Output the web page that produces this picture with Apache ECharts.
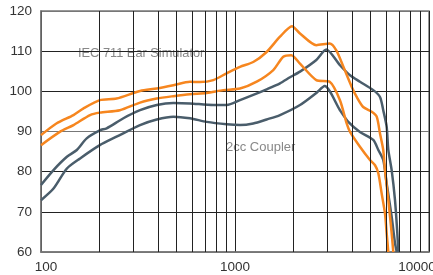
<!DOCTYPE html>
<html>
<head>
<meta charset="utf-8">
<script src="https://cdn.jsdelivr.net/npm/echarts@6/dist/echarts.min.js"></script>
<style>
  html, body { margin: 0; padding: 0; background: #fff; }
  #main { width: 433px; height: 275px; }
</style>
</head>
<body>
<div id="main"></div>
<script>
"use strict";
// IEC 711 ear simulator, upper curve
let iecUpperFreq = [100, 120, 147, 165, 201, 245, 324, 395, 481, 586, 660, 773, 906, 1061, 1242, 1456, 1706, 1967, 2163, 2625, 3077, 3328, 3620, 3998, 4240, 4580, 5066, 5375, 5590, 5810, 5930, 6170, 6420, 6545];
let iecUpperDb   = [89.1, 92.0, 94.1, 95.7, 97.8, 98.2, 100.1, 100.7, 101.5, 102.4, 102.3, 102.8, 104.5, 106.1, 107.3, 109.8, 113.6, 116.2, 114.4, 111.5, 111.9, 110.2, 106.1, 101.1, 98.6, 96.1, 94.9, 93.7, 89.5, 85.4, 80.4, 72.9, 64.7, 60];
// IEC 711 ear simulator, lower curve
let iecLowerFreq = [100, 125, 147, 179, 201, 255, 324, 395, 481, 586, 715, 870, 1061, 1294, 1575, 1774, 1950, 2163, 2625, 3077, 3476, 3764, 3917, 4406, 4964, 5270, 5480, 5700, 5930, 6050, 6170];
let iecLowerDb   = [86.6, 89.9, 91.6, 94.1, 94.7, 95.3, 97.2, 98.2, 98.8, 99.3, 99.6, 100.3, 100.7, 102.4, 105.3, 108.6, 109.0, 106.9, 102.8, 102.4, 97.8, 92.0, 89.9, 86.2, 82.9, 81.6, 79.6, 74.6, 69.6, 64.7, 60];
// 2cc coupler, upper curve
let ccUpperFreq = [100, 116, 136, 153, 172, 201, 218, 266, 324, 395, 481, 586, 773, 906, 1061, 1242, 1456, 1706, 1921, 2163, 2625, 2955, 3476, 3917, 4406, 5160, 5590, 5810, 6050, 6170, 6420, 6680, 6866, 6950];
let ccUpperDb   = [76.7, 80.4, 83.7, 85.4, 88.3, 90.3, 90.8, 93.3, 95.3, 96.6, 97.1, 97.0, 96.6, 96.6, 97.8, 99.1, 100.5, 102.0, 103.5, 104.9, 107.8, 110.4, 106.5, 104.0, 102.4, 100.3, 98.6, 95.3, 91.2, 85.4, 80.4, 72.9, 64.7, 60];
// 2cc coupler, lower curve
let ccLowerFreq = [100, 116, 136, 159, 201, 245, 324, 395, 481, 586, 715, 906, 1061, 1242, 1456, 1706, 2163, 2625, 2898, 3476, 3837, 4406, 5160, 5480, 5810, 6050, 6420, 6680, 6820];
let ccLowerDb   = [72.9, 75.8, 80.8, 83.3, 86.6, 88.7, 91.6, 93.0, 93.7, 93.3, 92.4, 91.8, 91.6, 92.0, 93.0, 94.1, 96.6, 99.6, 101.3, 95.3, 92.4, 89.9, 87.9, 85.4, 82.9, 77.1, 68.8, 62.2, 60];

// intermediate vertical grid lines of the log axis
let minorFreqs = [200, 300, 400, 500, 600, 700, 800, 900, 2000, 3000, 4000, 5000, 6000, 7000, 8000, 9000];

let orange = '#f6861f';
let slate = '#4a5d6b';

function pairs(xs, ys) {
    return xs.map(function (x, i) { return [x, ys[i]]; });
}

function curve(name, xs, ys, color) {
    return {
        name: name,
        type: 'line',
        data: pairs(xs, ys),
        showSymbol: false,
        smooth: 0.25,
        clip: true,
        z: 3,
        lineStyle: { color: color, width: 2.5 }
    };
}

// the original's x labels sit a little off their ticks
function xLabel(v) {
    if (v === 100) return '{lo|' + v + '}';
    if (v === 10000) return '{hi|' + v + '}';
    return String(v);
}

let myChart = echarts.init(document.getElementById('main'));
let option = {
    animation: false,
    grid: {
        left: 41, right: 4, top: 11, bottom: 23,
        outerBoundsMode: 'none',
        containLabel: false,
        show: true, borderColor: '#777', borderWidth: 1.5
    },
    xAxis: {
        type: 'log',
        logBase: 10,
        min: 100,
        max: 10000,
        axisLine: { lineStyle: { color: '#777', width: 1.5 } },
        axisTick: { show: false },
        axisLabel: {
            color: '#333', fontSize: 13.5, fontFamily: 'Liberation Sans', margin: 8, hideOverlap: false,
            formatter: xLabel,
            rich: {
                lo: { fontSize: 13.5, fontFamily: 'Liberation Sans', color: '#333', padding: [0, 0, 0, 10] },
                hi: { fontSize: 13.5, fontFamily: 'Liberation Sans', color: '#333', padding: [0, 24, 0, 0] }
            }
        },
        splitLine: { show: true, lineStyle: { color: '#222', width: 1 } }
    },
    yAxis: {
        type: 'value',
        min: 60,
        max: 120,
        interval: 10,
        axisLine: { show: true, lineStyle: { color: '#777', width: 1.5 } },
        axisTick: { show: false },
        axisLabel: { color: '#333', fontSize: 13.5, fontFamily: 'Liberation Sans', margin: 9 },
        splitLine: { lineStyle: { color: ['#777', '#222', '#222', '#777', '#222', '#222', '#777'], width: 1 } }
    },
    graphic: [
        { type: 'text', left: 78, top: 47, z: 0,
          style: { text: 'IEC 711 Ear Simulator', fill: '#888', font: '12.8px "Liberation Sans"' } },
        { type: 'text', left: 226, top: 141, z: 0,
          style: { text: '2cc Coupler', fill: '#888', font: '13px "Liberation Sans"' } }
    ],
    series: [
        {
            type: 'line',
            data: [],
            z: 1,
            markLine: {
                silent: true,
                symbol: 'none',
                label: { show: false },
                lineStyle: { color: '#222', width: 1, type: 'solid' },
                data: minorFreqs.map(function (f) { return { xAxis: f }; })
            }
        },
        curve('2cc lower', ccLowerFreq, ccLowerDb, slate),
        curve('2cc upper', ccUpperFreq, ccUpperDb, slate),
        curve('IEC lower', iecLowerFreq, iecLowerDb, orange),
        curve('IEC upper', iecUpperFreq, iecUpperDb, orange)
    ]
};
myChart.setOption(option);
</script>
</body>
</html>
